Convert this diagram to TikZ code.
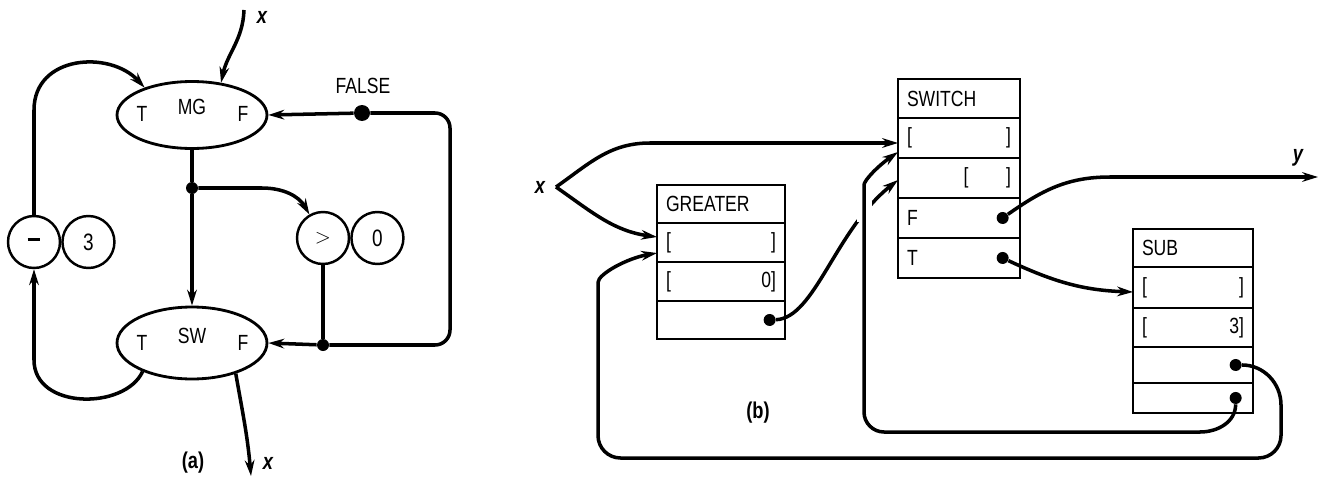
\documentclass[tikz,border=0pt]{standalone}
\usepackage{fontspec}
\setmainfont[FakeStretch=0.8]{Liberation Sans}
\usepackage{tikz}
\usetikzlibrary{arrows.meta, positioning, shapes.geometric}

\begin{document}
\begin{tikzpicture}[x=0.02cm,y=-0.02cm,
 font=\fontsize{12.5}{14}\selectfont,
 >={Stealth[length=9pt,width=5.5pt]},
 wire/.style={line width=2pt},
 actor/.style={ellipse,draw=black,line width=1.6pt,minimum width=3cm,minimum height=1.34cm},
 token/.style={circle,draw=black,line width=1.4pt,minimum size=1.04cm,inner sep=0pt},
 dot/.style={circle,fill=black,inner sep=0pt,minimum size=0.24cm},
 cell/.style={rectangle,draw=black,line width=1.5pt,inner xsep=0.18cm,inner ysep=0pt,
   outer sep=0pt,minimum height=0.8cm,text width=#1,align=left},
 cell/.default=2.2cm,
 tag/.style={font=\fontsize{13}{14}\selectfont\bfseries\itshape}]
 \useasboundingbox (0,0) rectangle (1331,480);

 % (a) actor graph
 \node[actor] (mg) at (192,115) {};
 \node (mgT) at (142,114) {T};
 \node (mgN) at (192,107) {MG};
 \node (mgF) at (243,114) {F};
 \node[actor,minimum height=1.44cm] (sw) at (192,343) {};
 \node (swT) at (142,343) {T};
 \node (swN) at (192,336) {SW};
 \node (swF) at (243,343) {F};
 \node[token] (minus) at (34,242) {\rule[0.1cm]{0.26cm}{1.3pt}};
 \node[token,right=0pt of minus,font=\fontsize{13.5}{14}\selectfont] (three) {3};
 \node[token] (gt) at (323,238) {$>$};
 \node[token,right=0pt of gt,font=\fontsize{13.5}{14}\selectfont] (zero) {0};
 \node[dot] (split) at (192,188) {};
 \node[dot] (join) at (323,345) {};
 \node[dot,minimum size=0.32cm] (false) at (362,113) {};
 \node (falseL) at (363,86) {FALSE};
 \coordinate (xin) at (244,10);
 \coordinate (xout) at (251,476);
 \node[tag] (xinL) at (262,17) {x};
 \node[tag] (xoutL) at (268,463) {x};
 \node[font=\fontsize{13}{14}\selectfont\bfseries] (capA) at (193,463) {(a)};

 \draw[wire,->] (xin) to[out=-92,in=78] (mg.48);
 \draw[wire] (mg) -- (split);
 \draw[wire,->] (split) -- (sw);
 \draw[wire,->] (split) -- (262,188) to[out=0,in=120] (gt);
 \draw[wire] (gt) -- (join);
 \draw[wire,->] (join) -- (sw.east);
 \draw[wire,rounded corners=0.3cm] (join) -- (450,345) -- (450,113) -- (false);
 \draw[wire,->] (false) -- (mg.east);
 \draw[wire,->] (minus) -- (34,110) .. controls (34,55) and (110,50) .. (mg.150);
 \draw[wire,->] (sw.210) .. controls (125,410) and (34,410) .. (34,360) -- (minus);
 \draw[wire,->] (sw.-35) to[out=-80,in=95] (xout);

 % (b) token boxes
 \node[cell,minimum height=0.76cm] (greaterTitle) at (721,204) {GREATER};
 \node[cell,below=0pt of greaterTitle,minimum height=0.78cm] (greaterA) {{[}\hfill{]}};
 \node[cell,below=0pt of greaterA,minimum height=0.78cm] (greaterB) {{[}\hfill 0{]}};
 \node[cell,below=0pt of greaterB,minimum height=0.76cm] (greaterC) {};
 \node[dot,left=0.18cm of greaterC.east] (greaterOut) {};

 \node[cell=2.08cm,minimum height=0.78cm] (switchTitle) at (959,98.5) {SWITCH};
 \node[cell=2.08cm,below=0pt of switchTitle] (switchA) {{[}\hfill{]}};
 \node[cell=2.08cm,below=0pt of switchA] (switchB) {\hfill{[}\hspace{0.75cm}{]}};
 \node[cell=2.08cm,below=0pt of switchB] (switchC) {F};
 \node[cell=2.08cm,below=0pt of switchC] (switchD) {T};
 \node[dot,left=0.22cm of switchC.east] (switchFout) {};
 \node[dot,left=0.22cm of switchD.east] (switchTout) {};

 \node[cell=2.04cm,minimum height=0.76cm] (subTitle) at (1193,248) {SUB};
 \node[cell=2.04cm,below=0pt of subTitle,minimum height=0.82cm] (subA) {{[}\hfill{]}};
 \node[cell=2.04cm,below=0pt of subA,minimum height=0.78cm] (subB) {{[}\hfill 3{]}};
 \node[cell=2.04cm,below=0pt of subB,minimum height=0.72cm] (subC) {};
 \node[cell=2.04cm,below=0pt of subC,minimum height=0.6cm] (subD) {};
 \node[dot,left=0.22cm of subC.east] (subCout) {};
 \node[dot,left=0.22cm of subD.east] (subDout) {};

 \coordinate (fork) at (556,187);
 \coordinate (yout) at (1318,177);
 \node[tag] (xL) at (540,187) {x};
 \node[tag] (yL) at (1298,158) {y};
 \node[font=\fontsize{13}{14}\selectfont\bfseries] (capB) at (758,413) {(b)};

 \draw[wire,->] (fork) to[out=35,in=180] (650,143) -- ([yshift=-0.1cm]switchA.west);
 \draw[wire,->] (fork) to[out=-35,in=172] ([yshift=0.11cm]greaterA.west);
 \draw[wire,->] (greaterOut) .. controls (815,318) and (835,230) .. ([yshift=-0.04cm]switchB.west);
 \draw[white,line width=0.3cm] (864,196) -- (864,222);
 \draw[wire,->] (subDout) to[out=-90,in=0] (1200,432) [rounded corners=0.4cm] -- (864,432)
   -- (864,205) to[out=90,in=215] ([yshift=-0.28cm]switchA.west);
 \draw[wire,->] (subCout) to[out=0,in=90] (1281,405) [rounded corners=0.45cm] -- (1281,458)
   -- (598,458) -- (598,305) [sharp corners] to[out=90,in=190] ([yshift=-0.21cm]greaterA.west);
 \draw[wire,->] (switchFout) to[out=35,in=180] (1110,177) -- (yout);
 \draw[wire,->] (switchTout) to[out=-25,in=178] ([yshift=-0.09cm]subA.west);
\end{tikzpicture}
\end{document}
